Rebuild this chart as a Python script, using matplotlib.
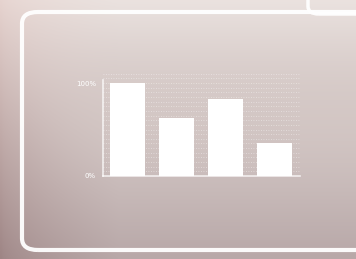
import numpy as np
import matplotlib
matplotlib.use("Agg")
import matplotlib.pyplot as plt
from matplotlib.patches import FancyBboxPatch

categories = ["A", "B", "C", "D"]
values = [100, 62, 83, 35]
tick_values = [0, 100]
tick_labels = ["0%", "100%"]

W, H = 356, 259
fig = plt.figure(figsize=(W / 100, H / 100), dpi=100)

# background gradient
bg = fig.add_axes([0, 0, 1, 1])
bg.set_axis_off()
tl = np.array([0xe6, 0xd3, 0xcf]) / 255
tr = np.array([0xec, 0xe4, 0xe1]) / 255
bl = np.array([0x9e, 0x85, 0x85]) / 255
br = np.array([0xb8, 0xa8, 0xa8]) / 255
yy, xx = np.mgrid[0:1:120j, 0:1:160j]
xw = np.clip(xx * 3, 0, 1) ** 0.6
img = ((1 - yy)[..., None] * ((1 - xw)[..., None] * tl + xw[..., None] * tr)
       + yy[..., None] * ((1 - xw)[..., None] * bl + xw[..., None] * br))
mid = np.array([0xd2, 0xc5, 0xc2]) / 255
wmid = np.exp(-((yy - 0.4) ** 2) / 0.08) * np.clip(xx * 4 - 0.3, 0, 1) * 0.5
img = img * (1 - wmid[..., None]) + mid * wmid[..., None]
bg.imshow(img, extent=[0, 1, 0, 1], aspect="auto", interpolation="bilinear", zorder=0)
bg.set_xlim(0, 1)
bg.set_ylim(0, 1)

# panel outline
panel = FancyBboxPatch((22 / W, 9 / H), 360 / W, 238 / H,
                       boxstyle="round,pad=0,rounding_size=0.045",
                       transform=fig.transFigure, fill=False,
                       edgecolor="white", linewidth=3.0, alpha=0.95, zorder=2)
fig.patches.append(panel)
tab = FancyBboxPatch((308 / W, 245 / H), 80 / W, 30 / H,
                     boxstyle="round,pad=0,rounding_size=0.03",
                     transform=fig.transFigure, fill=False,
                     edgecolor="white", linewidth=2.5, alpha=0.95, zorder=2)
fig.patches.append(tab)

# chart
left, right = 103 / W, 300 / W
bottom = 1 - 176 / H
top = 1 - 72 / H
ax = fig.add_axes([left, bottom, right - left, top - bottom])
ax.patch.set_alpha(0)
x = np.arange(len(categories))
ax.bar(x, values, width=0.71, color="white", zorder=3)
ax.set_xlim(-0.49, 3.51)
ymax = 100 * (176 - 72) / (176 - 83)
ax.set_ylim(0, ymax)
for g in np.arange(5, ymax, 5):
    ax.axhline(g, color="white", linestyle=(0, (1, 2)), linewidth=0.6, alpha=0.5, zorder=1)
for s in ["top", "right"]:
    ax.spines[s].set_visible(False)
for s in ["left", "bottom"]:
    ax.spines[s].set_color("white")
    ax.spines[s].set_alpha(0.75)
    ax.spines[s].set_linewidth(1.2)
ax.spines["left"].set_bounds(0, 103)
ax.set_xticks([])
ax.set_yticks(tick_values)
ax.set_yticklabels(tick_labels, fontsize=5, color="white")
ax.tick_params(axis="y", length=0, pad=5)

fig.savefig("out.png", dpi=100)
